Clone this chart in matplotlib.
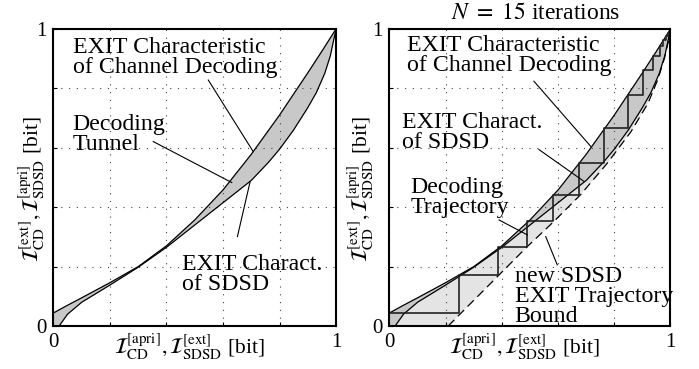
import numpy as np
import matplotlib
matplotlib.use("Agg")
import matplotlib.pyplot as plt

plt.rcParams['font.family'] = ['Liberation Serif', 'DejaVu Serif']
plt.rcParams['mathtext.fontset'] = 'stix'

# EXIT characteristic of channel decoding
cd_x = [0.0, 0.05, 0.1, 0.2, 0.3, 0.4, 0.5, 0.6, 0.7, 0.8, 0.9, 0.95, 1.0]
cd_y = [0.044, 0.07, 0.095, 0.146, 0.2, 0.27, 0.357, 0.458, 0.578, 0.71, 0.852, 0.925, 1.0]

# EXIT characteristic of SDSD (axes swapped)
sdsd_x = [0.02, 0.05, 0.1, 0.2, 0.3, 0.4, 0.5, 0.6, 0.7, 0.76, 0.8, 0.85, 0.9, 0.93, 0.96, 0.98, 1.0]
sdsd_y = [0.0, 0.04, 0.08, 0.138, 0.198, 0.265, 0.34, 0.415, 0.49, 0.55, 0.595, 0.66, 0.735, 0.785, 0.85, 0.91, 1.0]

# new SDSD EXIT trajectory bound (dashed)
bound_x = [0.209, 0.254, 0.39, 0.49, 0.585, 0.68, 0.775, 0.86, 0.92, 0.955, 0.978, 0.993]
bound_y = [0.0, 0.043, 0.172, 0.267, 0.352, 0.442, 0.548, 0.655, 0.75, 0.83, 0.9, 0.96]

# decoding trajectory, N = 15 iterations
traj_x = [0.0, 0.248, 0.387, 0.488, 0.581, 0.674, 0.765, 0.849, 0.903, 0.939, 0.963, 0.975, 0.985, 0.992, 0.997]
traj_y = [0.043, 0.172, 0.267, 0.352, 0.442, 0.548, 0.666, 0.779, 0.863, 0.908, 0.942, 0.962, 0.976, 0.987, 0.995]

ticks = [0, 0.2, 0.4, 0.6, 0.8, 1.0]
tick_labels = ['0', '', '', '', '', '1']

dark = '#c8c8c8'
light = '#e4e4e4'
fs = 17.2


def setupAxes(ax, ylab_x):
    ax.set_xlim(0, 1)
    ax.set_ylim(0, 1)
    ax.set_xticks(ticks)
    ax.set_yticks(ticks)
    ax.set_xticklabels(tick_labels)
    ax.set_yticklabels(tick_labels)
    ax.tick_params(direction='in', length=3, width=0.8, labelsize=15, pad=5)
    ax.grid(True, linestyle=(0, (1, 6)), color='#444444', linewidth=0.8)
    for s in ax.spines.values():
        s.set_linewidth(1.5)
    ax.set_xlabel(r'$\mathcal{I}_{\rm CD}^{\rm [apri]}, \mathcal{I}_{\rm SDSD}^{\rm [ext]}$ [bit]', fontsize=15.5)
    ax.xaxis.set_label_coords(0.48, -0.02)
    ax.set_ylabel(r'$\mathcal{I}_{\rm CD}^{\rm [ext]}, \mathcal{I}_{\rm SDSD}^{\rm [apri]}$ [bit]', fontsize=15.5)
    ax.yaxis.set_label_coords(ylab_x, 0.46)


def note(ax, x, y, s):
    # y is the baseline of the last line
    ax.text(x, y, s, fontsize=fs, linespacing=0.93, va='baseline')


fig = plt.figure(figsize=(6.99, 3.69), dpi=100)
ax1 = fig.add_axes([0.0765, 0.1165, 0.4042, 0.805])
ax2 = fig.add_axes([0.5572, 0.1165, 0.402, 0.805])

# left panel: decoding tunnel
ax1.fill(cd_x + sdsd_x[::-1] + [0.0], cd_y + sdsd_y[::-1] + [0.0], color=dark, lw=0)
ax1.plot(cd_x, cd_y, color='k', lw=0.9)
ax1.plot(sdsd_x, sdsd_y, color='k', lw=0.9)
setupAxes(ax1, -0.022)

note(ax1, 0.068, 0.851, 'EXIT Characteristic\nof Channel Decoding')
note(ax1, 0.068, 0.593, 'Decoding\nTunnel')
note(ax1, 0.454, 0.121, 'EXIT Charact.\nof SDSD')
ax1.plot([0.548, 0.707], [0.828, 0.587], color='k', lw=0.8)
ax1.plot([0.353, 0.631], [0.621, 0.483], color='k', lw=0.8)
ax1.plot([0.651, 0.696], [0.301, 0.486], color='k', lw=0.8)

# right panel: trajectory
ax2.fill(sdsd_x + bound_x[::-1], sdsd_y + bound_y[::-1], color=light, lw=0)
ax2.fill(cd_x + sdsd_x[::-1] + [0.0], cd_y + sdsd_y[::-1] + [0.0], color=dark, lw=0)
ax2.plot(cd_x, cd_y, color='k', lw=0.9)
ax2.plot(sdsd_x, sdsd_y, color='k', lw=0.9)
ax2.plot(bound_x, bound_y, color='k', lw=0.9, dashes=(7, 4))

# staircase path
px, py = [traj_x[0]], [traj_y[0]]
for i in range(1, len(traj_x)):
    px += [traj_x[i], traj_x[i]]
    py += [traj_y[i - 1], traj_y[i]]
ax2.plot(px, py, color='#222222', lw=1.2)
setupAxes(ax2, -0.048)

ax2.text(0.521, 1.032, r'$N\ =\ 15$ iterations', fontsize=17, ha='center', va='baseline',
         transform=ax2.transAxes)
note(ax2, 0.063, 0.858, 'EXIT Characteristic\nof Channel Decoding')
note(ax2, 0.046, 0.599, 'EXIT Charact.\nof SDSD')
note(ax2, 0.075, 0.38, 'Decoding\nTrajectory')
note(ax2, 0.445, 0.0145, 'new SDSD\nEXIT Trajectory\nBound')
ax2.plot([0.514, 0.716], [0.824, 0.605], color='k', lw=0.8)
ax2.plot([0.532, 0.692], [0.594, 0.487], color='k', lw=0.8)
ax2.plot([0.39, 0.49], [0.357, 0.307], color='k', lw=0.8)
ax2.plot([0.597, 0.556], [0.206, 0.301], color='k', lw=0.8)

fig.savefig('out.png', dpi=100)
